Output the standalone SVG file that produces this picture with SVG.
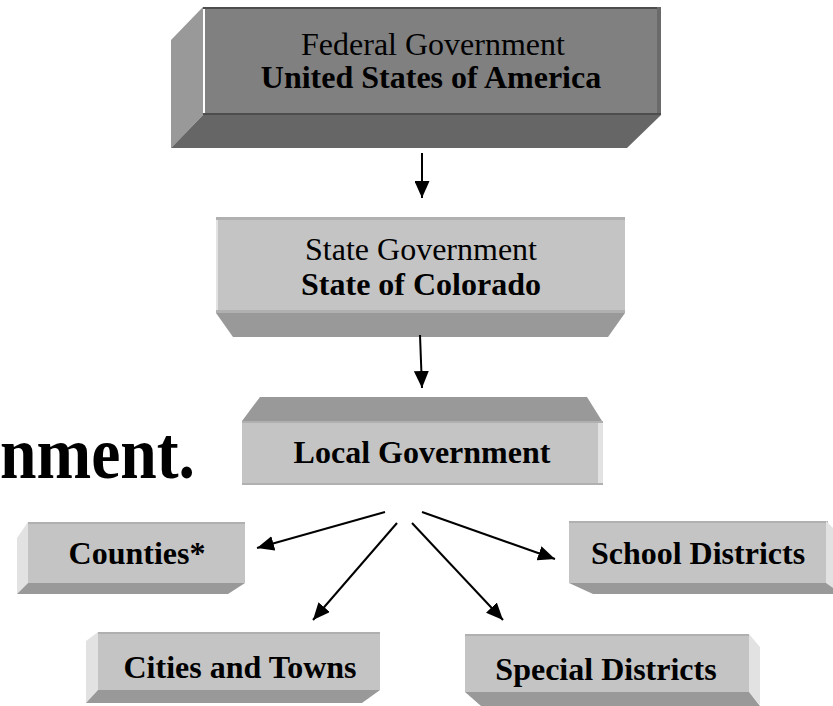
<svg xmlns="http://www.w3.org/2000/svg" width="833" height="706" viewBox="0 0 833 706">
<style>
.lbl{font-family:"Liberation Serif","Times New Roman",serif;font-size:32px;fill:#000;text-anchor:middle}
.b{font-weight:bold}
.front{fill:#c4c4c4}
.side{fill:#e2e2e2}
.bevel{fill:#999999}
.edge{fill:#b0b0b0}
.conn{stroke:#000;stroke-width:2;fill:none;marker-end:url(#ah)}
</style>
<defs>
<marker id="ah" markerUnits="userSpaceOnUse" markerWidth="18" markerHeight="15" refX="17" refY="7.5" orient="auto">
<path d="M0,0 L17,7.5 L0,15 z" fill="#000"/>
</marker>
</defs>
<rect width="833" height="706" fill="#fff"/>

<text x="0" y="478" font-family="Liberation Serif, Times New Roman, serif" font-weight="bold" font-size="74" textLength="195" lengthAdjust="spacingAndGlyphs">nment.</text>

<g id="federal">
<polygon points="171,40 203,7 203,115 171,148" fill="#999999"/>
<polygon points="171,148 203,115 661,115 627,148" fill="#666666"/>
<rect x="203" y="7" width="458" height="108" fill="#808080"/>
<rect x="203" y="7" width="458" height="2" fill="#4d4d4d"/>
<rect x="657" y="7" width="4" height="108" fill="#6a6a6a"/>
<rect x="203" y="113" width="458" height="2" fill="#4d4d4d"/>
<rect x="203" y="9" width="2" height="104" fill="#ffffff"/>
<text class="lbl" x="433" y="55">Federal Government</text>
<text class="lbl b" x="431" y="88">United States of America</text>
</g>

<g id="state">
<polygon class="bevel" points="216,313 625,313 608,337 233,337"/>
<rect class="front" x="216" y="217" width="409" height="96"/>
<rect class="edge" x="216" y="217" width="409" height="3"/>
<rect class="edge" x="216" y="310" width="409" height="3"/>
<rect class="side" x="216" y="220" width="2" height="90"/>
<text class="lbl" x="421" y="260">State Government</text>
<text class="lbl b" x="421" y="295">State of Colorado</text>
</g>

<g id="local">
<polygon class="bevel" points="242,421 260,397 587,397 602,421"/>
<rect class="front" x="242" y="421" width="361" height="64"/>
<rect class="edge" x="242" y="421" width="361" height="2"/>
<rect class="edge" x="242" y="483" width="361" height="2"/>
<rect class="side" x="598" y="423" width="5" height="60"/>
<text class="lbl b" x="422" y="463">Local Government</text>
</g>

<g id="counties">
<polygon class="side" points="17,538 28,522 28,583 17,594"/>
<polygon class="bevel" points="28,583 245,583 228,594 17,594"/>
<rect class="front" x="28" y="522" width="217" height="61"/>
<rect class="edge" x="28" y="522" width="217" height="2"/>
<text class="lbl b" x="137" y="564">Counties*</text>
</g>

<g id="school">
<polygon class="bevel" points="569,583 833,583 833,594 593,594"/>
<rect class="front" x="569" y="521" width="259" height="62"/>
<rect class="edge" x="569" y="521" width="259" height="2"/>
<polygon class="side" points="826,521 833,528 833,588 826,583"/>
<text class="lbl b" x="698" y="564">School Districts</text>
</g>

<g id="cities">
<polygon class="side" points="86,641 98,632 98,690 86,703"/>
<polygon class="bevel" points="98,690 380,690 362,703 86,703"/>
<rect class="front" x="98" y="632" width="282" height="58"/>
<rect class="edge" x="98" y="632" width="282" height="2"/>
<text class="lbl b" x="240" y="678">Cities and Towns</text>
</g>

<g id="special">
<polygon class="side" points="749,634 760,647 760,705 749,692"/>
<polygon class="bevel" points="465,692 749,692 760,706 481,706"/>
<rect class="front" x="465" y="634" width="284" height="58"/>
<rect class="edge" x="465" y="634" width="284" height="2"/>
<text class="lbl b" x="606" y="680">Special Districts</text>
</g>

<g id="connectors">
<line class="conn" x1="422" y1="153" x2="422" y2="198"/>
<line class="conn" x1="420" y1="335" x2="422" y2="388"/>
<line class="conn" x1="385" y1="512" x2="257" y2="548"/>
<line class="conn" x1="397" y1="523" x2="313" y2="620"/>
<line class="conn" x1="412" y1="523" x2="503" y2="620"/>
<line class="conn" x1="422" y1="512" x2="555" y2="559"/>
</g>
</svg>
